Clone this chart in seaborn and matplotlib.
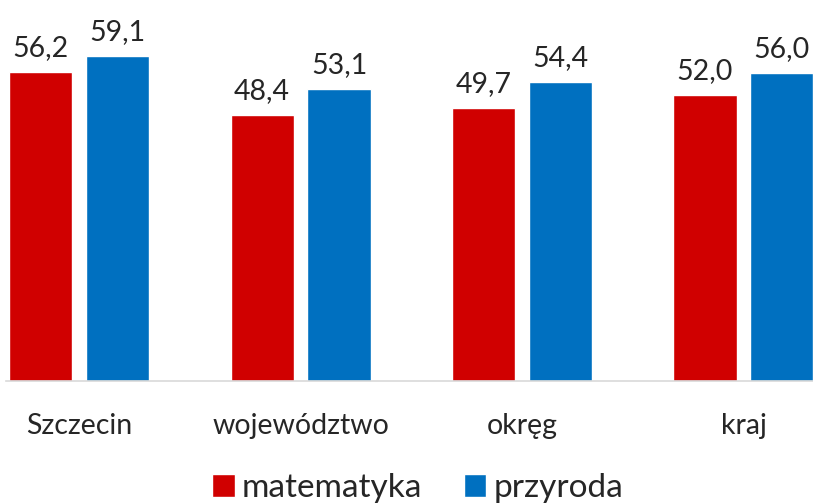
import matplotlib
matplotlib.use("Agg")
import matplotlib.pyplot as plt
import seaborn as sns
import pandas as pd

categories = ["Szczecin", "województwo", "okręg", "kraj"]
series = ["matematyka", "przyroda"]
matematyka = [56.2, 48.4, 49.7, 52.0]
przyroda = [59.1, 53.1, 54.4, 56.0]
colors = ["#D00000", "#0070C0"]

df = pd.DataFrame({
    "kategoria": categories * 2,
    "seria": [series[0]] * 4 + [series[1]] * 4,
    "wartosc": matematyka + przyroda,
})

sns.set_theme(style="white")
plt.rcParams["font.family"] = ["Lato", "DejaVu Sans"]

fig = plt.figure(figsize=(8.13, 5.04), dpi=100)
ax = fig.add_axes([6 / 813, 123 / 504, 807 / 813, 381 / 504])

sns.barplot(data=df, x="kategoria", y="wartosc", hue="seria", order=categories,
            hue_order=series, palette=colors, width=0.695, gap=0.18,
            saturation=1, ax=ax, legend=True)

ax.set_xlim(-0.33, 3.314)
ax.set_ylim(0, 69.3)
for c in ax.containers:
    labels = [f"{v:.1f}".replace(".", ",") for v in c.datavalues]
    ax.bar_label(c, labels=labels, padding=8, fontsize=20.5, color="#262626")

sns.despine(ax=ax, left=True, top=True, right=True)
ax.spines["bottom"].set_color("#D9D9D9")
ax.spines["bottom"].set_linewidth(1.2)
ax.set_yticks([])
ax.set_xlabel("")
ax.set_ylabel("")
ax.tick_params(axis="x", length=0, pad=23, labelsize=20.5, labelcolor="#262626")

handles, lbls = ax.get_legend_handles_labels()
ax.get_legend().remove()
fig.legend(handles, lbls, loc="center", bbox_to_anchor=(0.514, 0.032), ncol=2,
           frameon=False, fontsize=24, handlelength=0.67, handleheight=0.67,
           handletextpad=0.22, columnspacing=1.25, labelcolor="#262626",
           borderpad=0.1)

fig.savefig("out.png", dpi=100)
